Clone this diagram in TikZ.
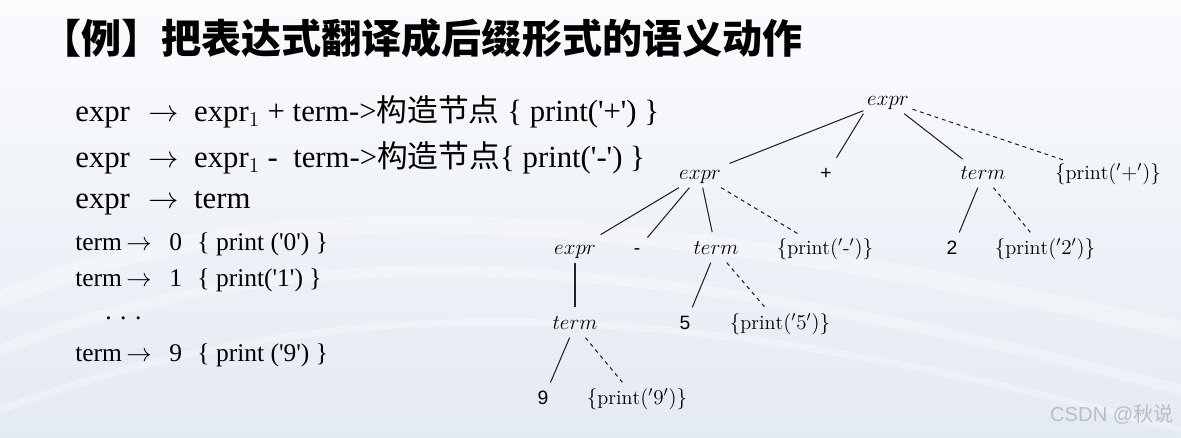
\documentclass[tikz,border=0pt]{standalone}
\usepackage{fontspec}
\usepackage{tikz}
\newfontfamily\cjkfont{Noto Sans CJK SC}
\newfontfamily\rulefont{Liberation Serif}
\newfontfamily\sansfont{Liberation Sans}
\definecolor{bgtop}{RGB}{250,251,253}
\definecolor{bgbottom}{RGB}{228,234,243}
\definecolor{treeline}{RGB}{35,35,35}
\definecolor{markgray}{RGB}{185,189,196}

\begin{document}
\begin{tikzpicture}[x=0.02cm, y=-0.02cm,
    rule/.style={anchor=west, inner sep=0pt, font=\rulefont\fontsize{17.5}{20}\selectfont},
    smallrule/.style={anchor=west, inner sep=0pt, font=\rulefont\fontsize{14.5}{17}\selectfont},
    nonterm/.style={inner sep=2pt, text height=7.5pt, text depth=2.5pt, font=\fontsize{11.5}{13}\selectfont},
    leaf/.style={nonterm, font=\sansfont\fontsize{11}{13}\selectfont},
    treeedge/.style={draw=treeline, line width=0.6pt, shorten >=3pt},
    actedge/.style={treeedge, dash pattern=on 2.2pt off 2.2pt}]

    % background
    \useasboundingbox (0,0) rectangle (1181,437);
    \clip (0,0) rectangle (1181,437);
    \fill[top color=bgtop, bottom color=bgbottom] (0,0) rectangle (1181,437);
    \draw[white, line width=10pt, opacity=0.3] (0,300) .. controls (250,190) and (600,200) .. (1181,330);
    \draw[white, line width=6pt, opacity=0.3] (0,350) .. controls (300,230) and (650,250) .. (1181,390);
    \draw[white, line width=4pt, opacity=0.3] (0,410) .. controls (350,280) and (700,300) .. (1181,430);

    % title
    \node[anchor=west, inner sep=0pt, font=\cjkfont\bfseries\fontsize{22.8}{26}\selectfont] (title) at (41,38) {【例】把表达式翻译成后缀形式的语义动作};

    % productions
    \node[rule] (r1) at (75,112) {expr\hspace{0.6em}$\rightarrow$\hspace{0.5em}expr$_1$ + term->{\cjkfont 构造节点} \{ print(\textquotesingle+\textquotesingle) \}};
    \node[rule] (r2) at (75,158) {expr\hspace{0.6em}$\rightarrow$\hspace{0.5em}expr$_1$ -\ \ term->{\cjkfont 构造节点}\{ print(\textquotesingle-\textquotesingle) \}};
    \node[rule] (r3) at (75,203) {expr\hspace{0.6em}$\rightarrow$\hspace{0.5em}term};
    \node[smallrule] (r4) at (75,244) {term\,$\rightarrow$\hspace{0.7em}0\hspace{0.6em}\{ print (\textquotesingle 0\textquotesingle) \}};
    \node[smallrule] (r5) at (75,280) {term\,$\rightarrow$\hspace{0.7em}1\hspace{0.6em}\{ print(\textquotesingle 1\textquotesingle) \}};
    \node[smallrule] (r6) at (105,318) {. . .};
    \node[smallrule] (r7) at (75,355) {term\,$\rightarrow$\hspace{0.7em}9\hspace{0.6em}\{ print (\textquotesingle 9\textquotesingle) \}};

    % parse tree
    \node[nonterm] (e0) at (888,101) {$expr$};
    \node[nonterm] (e1) at (700,175) {$expr$};
    \node[leaf] (plus) at (826,175) {+};
    \node[nonterm] (t1) at (983,175) {$term$};
    \node[nonterm] (a1) at (1108,175) {$\{\mathrm{print}('{+}')\}$};

    \node[nonterm] (e2) at (575,250) {$expr$};
    \node[leaf] (minus) at (637,250) {-};
    \node[nonterm] (t2) at (716,250) {$term$};
    \node[nonterm] (a2) at (825,250) {$\{\mathrm{print}('\hbox{-}')\}$};
    \node[leaf] (two) at (952,250) {2};
    \node[nonterm] (a3) at (1045,250) {$\{\mathrm{print}('2')\}$};

    \node[nonterm] (t3) at (575,325) {$term$};
    \node[leaf] (five) at (685,325) {5};
    \node[nonterm] (a4) at (780,325) {$\{\mathrm{print}('5')\}$};

    \node[leaf] (nine) at (543,400) {9};
    \node[nonterm] (a5) at (637,400) {$\{\mathrm{print}('9')\}$};

    \draw[treeedge] (e0) -- (e1);
    \draw[treeedge] (e0.south west) -- (plus);
    \draw[treeedge] (e0) -- (t1);
    \draw[actedge] (e0) -- (a1);
    \draw[treeedge] (e1) -- (e2);
    \draw[treeedge] (e1) -- (minus);
    \draw[treeedge] (e1) -- (t2);
    \draw[actedge] (e1) -- (a2);
    \draw[treeedge] (t1) -- (two);
    \draw[actedge] (t1) -- (a3);
    \draw[treeedge] (e2) -- (t3);
    \draw[treeedge] (t2) -- (five);
    \draw[actedge] (t2) -- (a4);
    \draw[treeedge] (t3) -- (nine);
    \draw[actedge] (t3) -- (a5);

    % watermark
    \node[inner sep=0pt, text=markgray, font=\sansfont\fontsize{11.5}{13}\selectfont] (mark) at (1112,414) {CSDN @{\cjkfont 秋说}};
\end{tikzpicture}
\end{document}
